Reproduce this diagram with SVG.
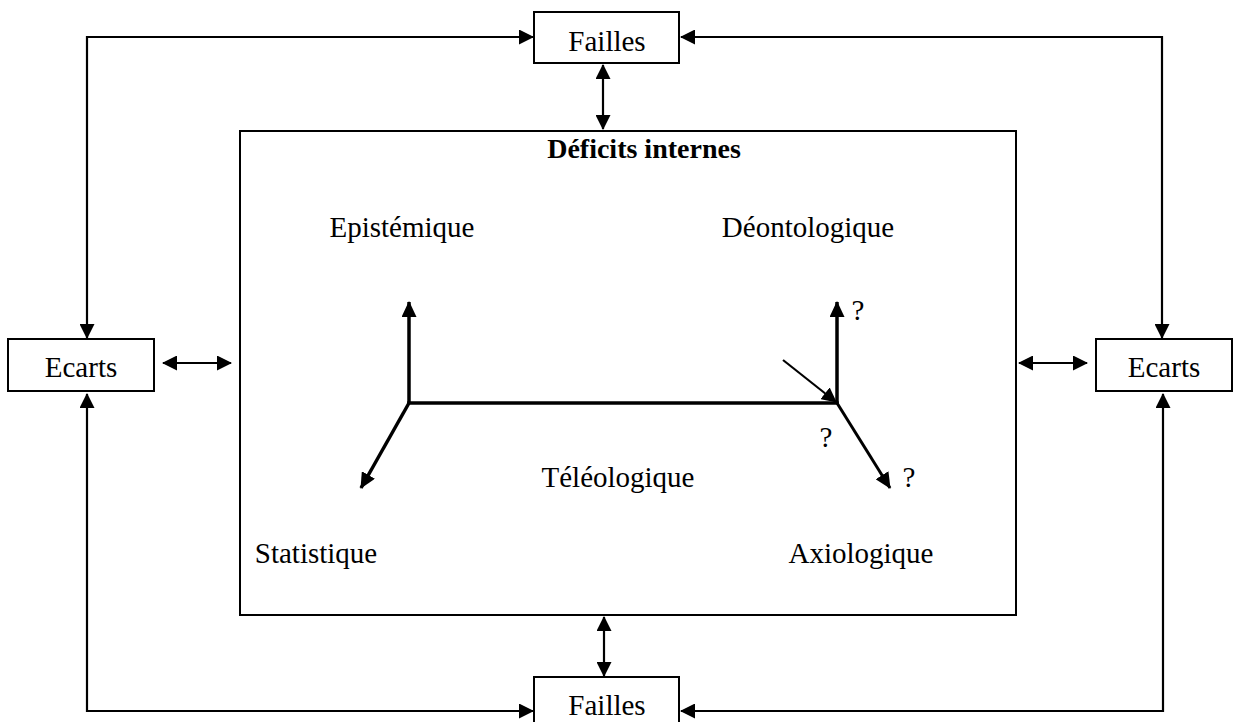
<svg xmlns="http://www.w3.org/2000/svg" width="1238" height="722" viewBox="0 0 1238 722">
<style>
.box{fill:#fff;stroke:#000;stroke-width:2}
.t{font-family:"Liberation Serif","Times New Roman",serif;font-size:29px;fill:#000;text-anchor:middle}
.b{font-weight:bold;font-size:28px}
.c{fill:none;stroke:#000;stroke-width:2.2}
.ax{fill:none;stroke:#000;stroke-width:3.5}
</style>
<defs>
<marker id="ah" viewBox="0 0 15 15" refX="14" refY="7.5" markerWidth="15" markerHeight="15" markerUnits="userSpaceOnUse" orient="auto-start-reverse">
<path d="M0,0 L15,7.5 L0,15 z" fill="#000"/>
</marker>
<marker id="ahb" viewBox="0 0 16 15" refX="15" refY="7.5" markerWidth="16" markerHeight="15" markerUnits="userSpaceOnUse" orient="auto-start-reverse">
<path d="M0,0 L16,7.5 L0,15 z" fill="#000"/>
</marker>
</defs>
<rect width="1238" height="722" fill="#fff"/>
<g id="connectors">
<path class="c" d="M87,338 L87,37 L533,37" marker-start="url(#ah)" marker-end="url(#ah)"/>
<path class="c" d="M1162,338 L1162,37 L681,37" marker-start="url(#ah)" marker-end="url(#ah)"/>
<path class="c" d="M87,394 L87,711 L533,711" marker-start="url(#ah)" marker-end="url(#ah)"/>
<path class="c" d="M1163,394 L1163,711 L681,711" marker-start="url(#ah)" marker-end="url(#ah)"/>
<path class="c" d="M163,363 L231,363" marker-start="url(#ah)" marker-end="url(#ah)"/>
<path class="c" d="M1019,363 L1087,363" marker-start="url(#ah)" marker-end="url(#ah)"/>
<path class="c" d="M603,65 L603,129" marker-start="url(#ah)" marker-end="url(#ah)"/>
<path class="c" d="M604,617 L604,676" marker-start="url(#ah)" marker-end="url(#ah)"/>
</g>
<g id="deficits">
<rect class="box" x="240" y="131" width="776" height="484"/>
<text class="t b" x="644" y="158">Déficits internes</text>
<text class="t" x="402" y="237">Epistémique</text>
<text class="t" x="808" y="237">Déontologique</text>
<text class="t" x="618" y="487">Téléologique</text>
<text class="t" x="316" y="563">Statistique</text>
<text class="t" x="861" y="563">Axiologique</text>
<text class="t" x="858" y="320">?</text>
<text class="t" x="826" y="447">?</text>
<text class="t" x="909" y="487">?</text>
<g id="axes">
<path class="ax" d="M409,403 L837,403" stroke-linecap="square"/>
<path class="ax" d="M409,403 L409,302" marker-end="url(#ahb)"/>
<path class="ax" d="M837,403 L837,302" marker-end="url(#ahb)"/>
<path class="ax" d="M409,403 L361,488" marker-end="url(#ahb)"/>
<path class="c" style="stroke-width:3" d="M837,403 L890,488" marker-end="url(#ahb)"/>
<path class="c" d="M783,360 L836,402" marker-end="url(#ah)"/>
</g>
</g>
<g id="failles-top">
<rect class="box" x="534" y="12" width="145" height="51"/>
<text class="t" x="607" y="51">Failles</text>
</g>
<g id="failles-bottom">
<rect class="box" x="534" y="677" width="145" height="52"/>
<text class="t" x="607" y="715">Failles</text>
</g>
<g id="ecarts-left">
<rect class="box" x="8" y="339" width="146" height="52"/>
<text class="t" x="81" y="377">Ecarts</text>
</g>
<g id="ecarts-right">
<rect class="box" x="1096" y="339" width="136" height="52"/>
<text class="t" x="1164" y="377">Ecarts</text>
</g>
</svg>
